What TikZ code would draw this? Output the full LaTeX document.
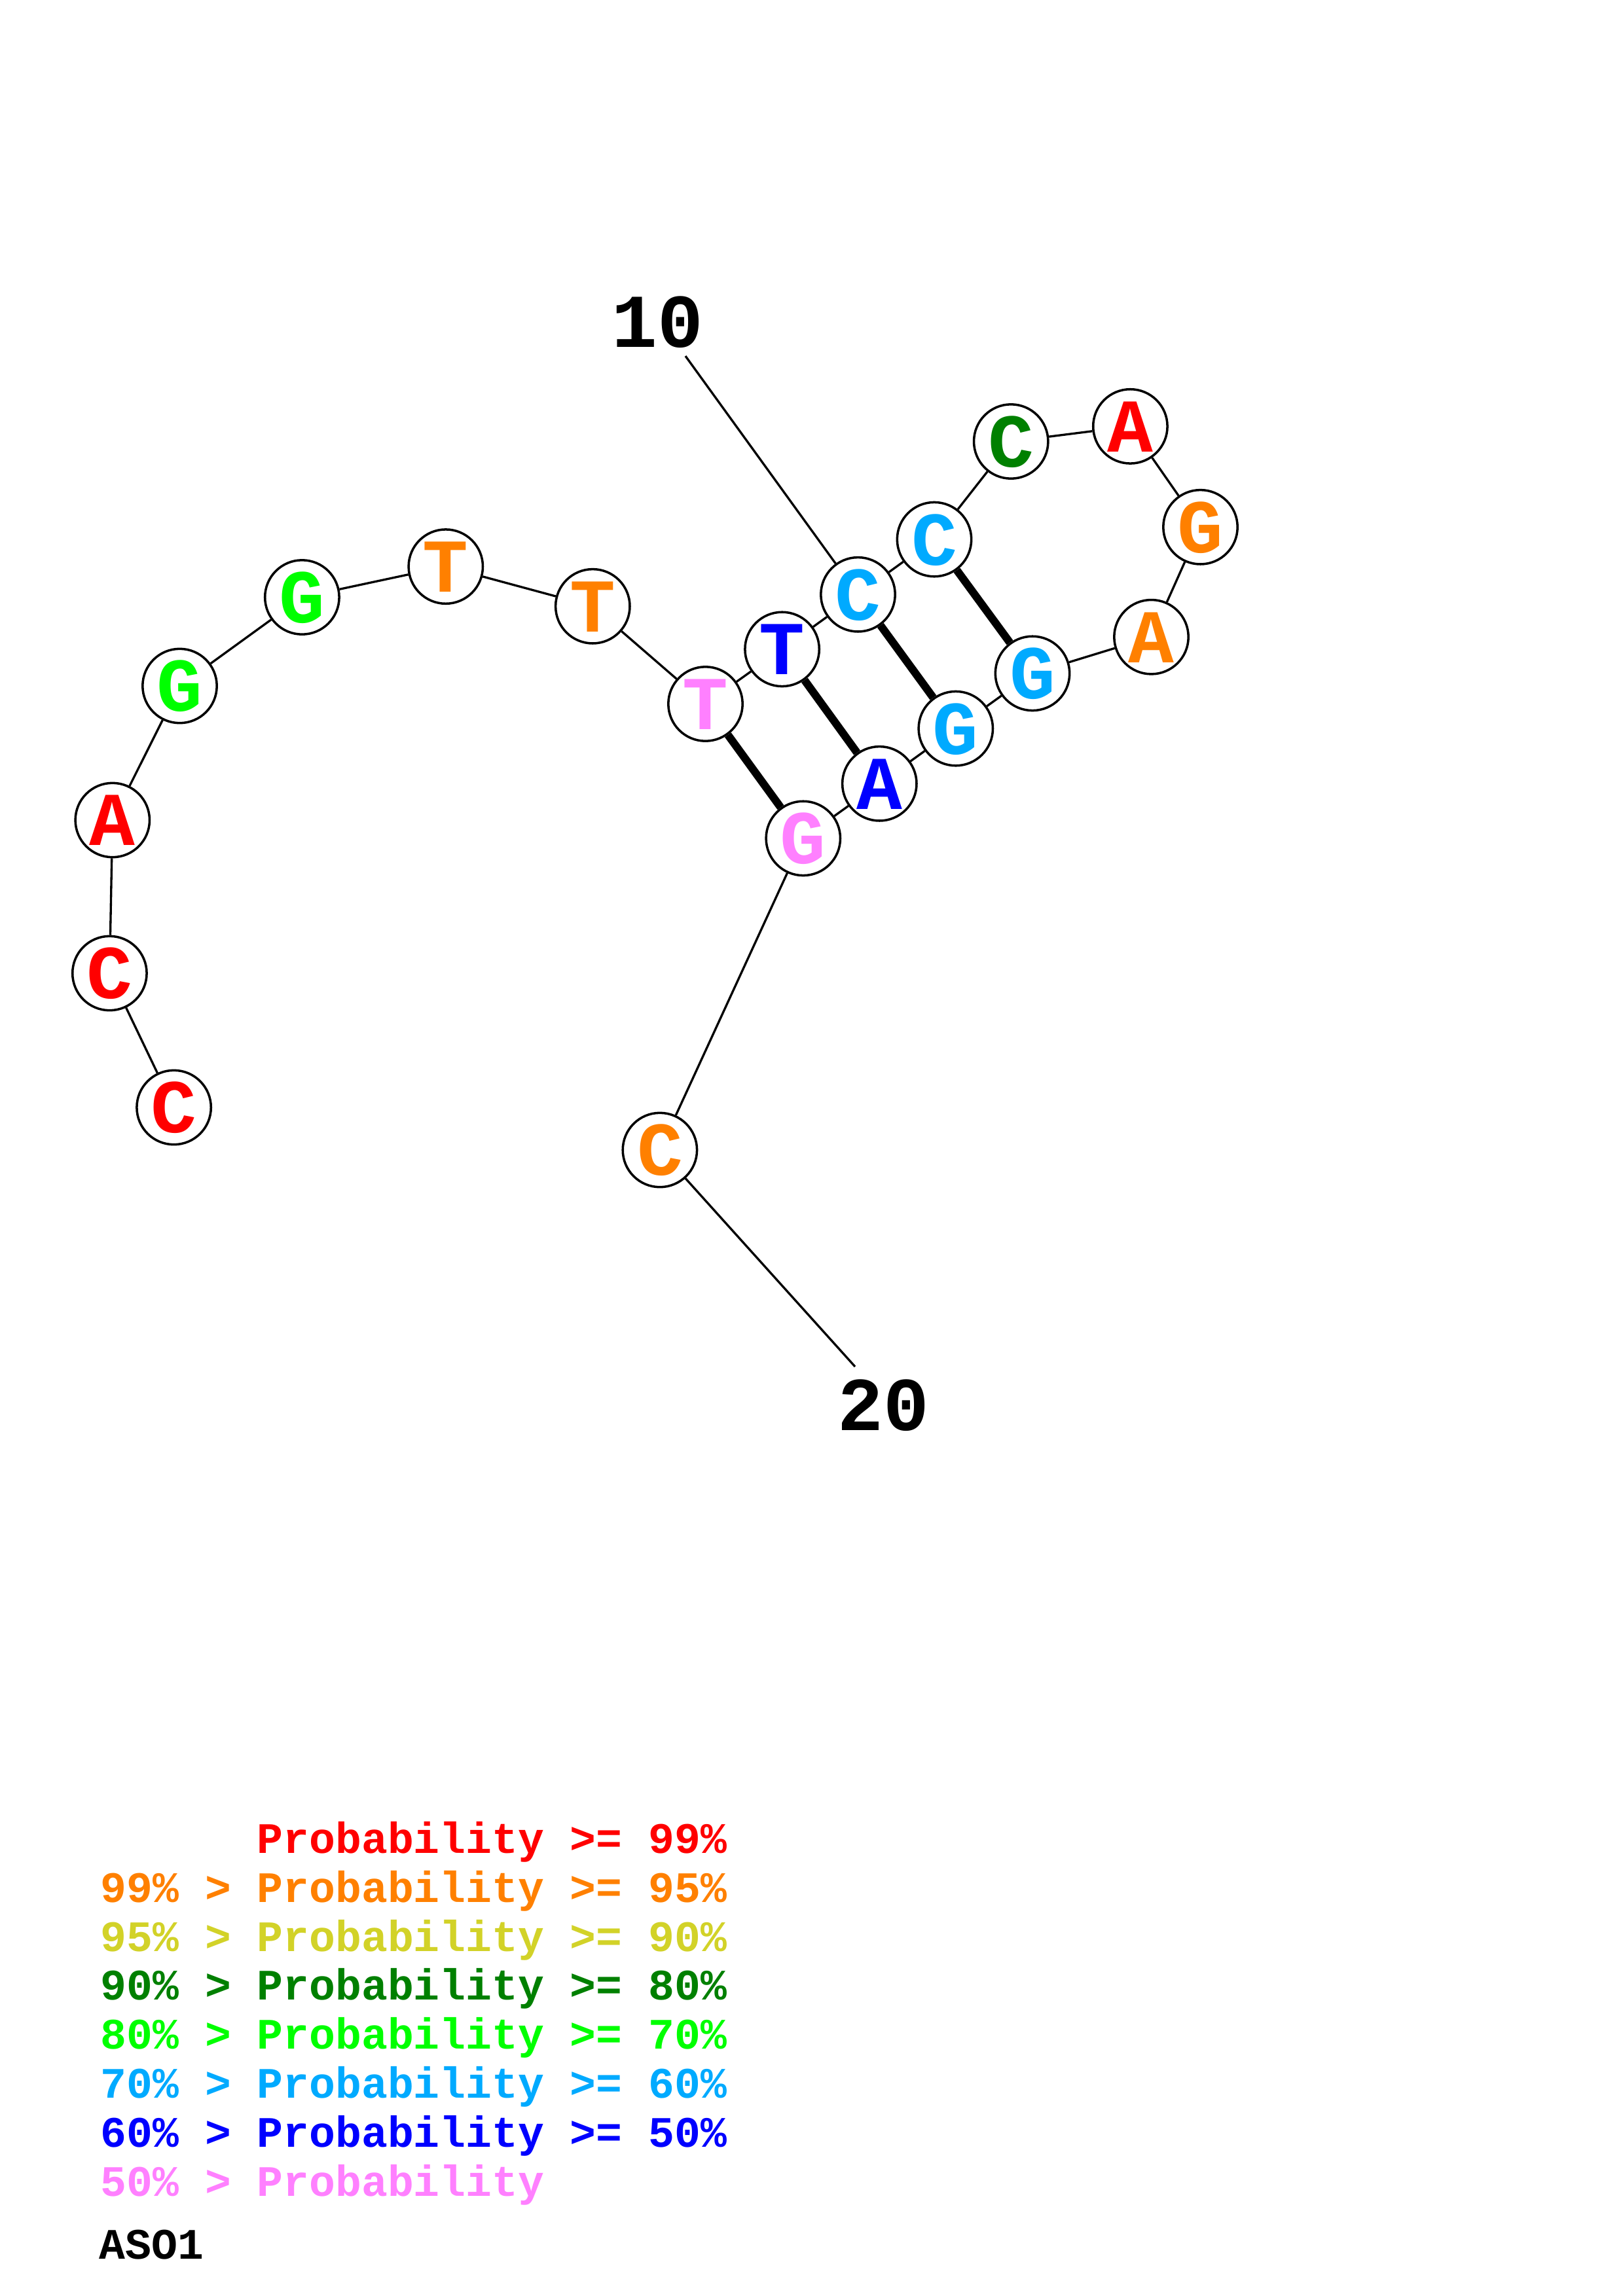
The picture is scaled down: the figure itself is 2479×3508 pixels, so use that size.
\documentclass[tikz,border=0pt]{standalone}
\usepackage{fontspec}
\setmonofont{Liberation Mono}
\usetikzlibrary{positioning}
\definecolor{pr99}{RGB}{255,0,0}
\definecolor{pr95}{RGB}{255,128,0}
\definecolor{pr90}{RGB}{210,210,40}
\definecolor{pr80}{RGB}{0,128,0}
\definecolor{pr70}{RGB}{0,255,0}
\definecolor{pr60}{RGB}{0,170,255}
\definecolor{pr50}{RGB}{0,0,255}
\definecolor{prlow}{RGB}{255,128,255}

\begin{document}
\begin{tikzpicture}[x=0.0846667mm, y=-0.0846667mm,
			base/.style={draw, circle, line width=0.85pt, fill=white, minimum size=9.6mm, inner sep=0pt, text height=6.6mm, text depth=0pt, font=\ttfamily\bfseries\fontsize{28}{28}\selectfont},
			backbone/.style={line width=0.8pt},
			pair/.style={line width=2.9pt},
			number/.style={font=\ttfamily\bfseries\fontsize{28}{28}\selectfont},
			legend/.style={anchor=base west, font=\ttfamily\bfseries\fontsize{16}{16}\selectfont}]
			\path[use as bounding box, fill=white] (0, 0) rectangle (2479, 3508);
			
			\node[base, text=pr99](nuc1) at (265.6, 1692) {C};
			\node[base, text=pr99](nuc2) at (167.4, 1487) {C};
			\node[base, text=pr99](nuc3) at (171.8, 1253) {A};
			\node[base, text=pr70](nuc4) at (274.5, 1048) {G};
			\node[base, text=pr70](nuc5) at (461.4, 912.5) {G};
			\node[base, text=pr95](nuc6) at (680.8, 865.6) {T};
			\node[base, text=pr95](nuc7) at (905.3, 926.3) {T};
			\node[base, text=prlow](nuc8) at (1077.5, 1075.5) {T};
			\node[base, text=pr50](nuc9) at (1194.6, 991.9) {T};
			\node[base, text=pr60](nuc10) at (1310.5, 908.3) {C};
			\node[base, text=pr60](nuc11) at (1427, 824.1) {C};
			\node[base, text=pr80](nuc12) at (1544.2, 674.5) {C};
			\node[base, text=pr99](nuc13) at (1726.4, 651.4) {A};
			\node[base, text=pr95](nuc14) at (1833.5, 805.3) {G};
			\node[base, text=pr95](nuc15) at (1758.5, 973.2) {A};
			\node[base, text=pr60](nuc16) at (1577, 1028.9) {G};
			\node[base, text=pr60](nuc17) at (1459.8, 1113.1) {G};
			\node[base, text=pr50](nuc18) at (1343.3, 1197.3) {A};
			\node[base, text=prlow](nuc19) at (1226.8, 1280.9) {G};
			\node[base, text=pr95](nuc20) at (1007.9, 1757) {C};
			
			\draw[backbone] (nuc1) -- (nuc2) -- (nuc3) -- (nuc4) -- (nuc5) -- (nuc6) -- (nuc7) -- (nuc8) -- (nuc9) -- (nuc10)
				-- (nuc11) -- (nuc12) -- (nuc13) -- (nuc14) -- (nuc15) -- (nuc16) -- (nuc17) -- (nuc18) -- (nuc19) -- (nuc20);
			
			\draw[pair] (nuc8) -- (nuc19);
			\draw[pair] (nuc9) -- (nuc18);
			\draw[pair] (nuc10) -- (nuc17);
			\draw[pair] (nuc11) -- (nuc16);
			
			\node[number](num10) at (1004.5, 492) {10};
			\coordinate (tick10) at (1047, 544);
			\draw[backbone] (tick10) -- (nuc10);
			
			\node[number](num20) at (1349, 2147) {20};
			\coordinate (tick20) at (1306, 2088);
			\draw[backbone] (nuc20) -- (tick20);
			
			\node[legend, text=pr99](key99) at (139, 2831.4) {\phantom{99\% >} Probability >= 99\%};
			\node[legend, text=pr95](key95) at (139, 2906.2) {99\% > Probability >= 95\%};
			\node[legend, text=pr90](key90) at (139, 2981) {95\% > Probability >= 90\%};
			\node[legend, text=pr80](key80) at (139, 3055.8) {90\% > Probability >= 80\%};
			\node[legend, text=pr70](key70) at (139, 3130.6) {80\% > Probability >= 70\%};
			\node[legend, text=pr60](key60) at (139, 3205.4) {70\% > Probability >= 60\%};
			\node[legend, text=pr50](key50) at (139, 3280.2) {60\% > Probability >= 50\%};
			\node[legend, text=prlow](keylow) at (139, 3355) {50\% > Probability};
			\node[legend](name) at (137, 3451.3) {ASO1};
\end{tikzpicture}
\end{document}
